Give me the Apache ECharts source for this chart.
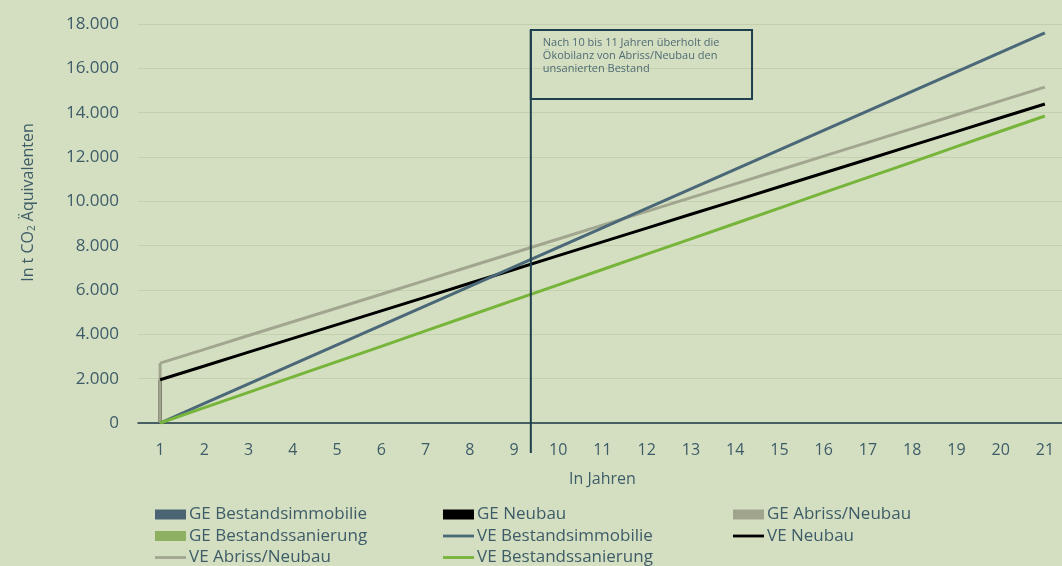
<!DOCTYPE html>
<html>
<head>
<meta charset="utf-8">
<script src="https://cdn.jsdelivr.net/npm/echarts@6/dist/echarts.min.js"></script>
<style>
html,body{margin:0;padding:0;background:#d4dfc1;}
#c{width:1062px;height:566px;}
</style>
</head>
<body>
<div id="c"></div>
<script>
const years = ['1','2','3','4','5','6','7','8','9','10','11','12','13','14','15','16','17','18','19','20','21'];
const veBestandsimmobilie = [0,880,1760,2640,3520,4400,5280,6160,7040,7920,8800,9680,10560,11440,12320,13200,14080,14960,15840,16720,17600];
const veAbrissNeubau = [2700,3320,3945,4570,5190,5810,6435,7060,7680,8300,8925,9550,10170,10790,11415,12040,12660,13280,13905,14530,15150];
const veNeubau = [1950,2570,3195,3815,4440,5060,5680,6305,6925,7550,8170,8790,9415,10035,10660,11280,11900,12525,13145,13770,14390];
const veBestandssanierung = [0,690,1385,2080,2770,3460,4155,4850,5540,6230,6925,7620,8310,9000,9695,10390,11080,11770,12465,13160,13850];
const geBestandsimmobilie = [0];
const geNeubau = [1950];
const geAbrissNeubau = [2700];
const geBestandssanierung = [0];
// annotation: [line x, line bottom y, box top y, box right x, box bottom y]
const annotation = [9.38, -1350, 17727, 14.38, 14615];
const noteText = 'Nach 10 bis 11 Jahren überholt die\nÖkobilanz von Abriss/Neubau den\nunsanierten Bestand';

const txt = '#3e5c68';
const FONT = '"Open Sans", sans-serif';
function fmt(v){ return String(v).replace(/\B(?=(\d{3})+(?!\d))/g,'.'); }
const lineIcon = 'path://M0,0 M0,10 M0,3.6 L31,3.6 L31,6.4 L0,6.4 Z';

const chart = echarts.init(document.getElementById('c'));
const lineBase = {type:'line', symbol:'none', showSymbol:false, xAxisIndex:0, yAxisIndex:0, z:3};
const barBase = {type:'bar', barWidth:3, barGap:'-100%', xAxisIndex:0, yAxisIndex:0, z:2};
function leg(left, items){
  return {
    orient:'vertical', left:left, top:504, height:90, padding:0, itemGap:0.5, itemWidth:31, itemHeight:10,
    itemStyle:{borderWidth:0},
    textStyle:{color:txt, fontSize:17, fontFamily:FONT, lineHeight:21, padding:[0,0,0,-2]},
    data: items.map(n => ({name:n, icon: n.indexOf('VE') === 0 ? lineIcon : 'rect'}))
  };
}
chart.setOption({
  backgroundColor:'#d4dfc1',
  animation:false,
  grid:{left:138, width:929, top:24, height:399, containLabel:false, outerBoundsMode:'none'},
  legend:[
    leg(155, ['GE Bestandsimmobilie','GE Bestandssanierung','VE Abriss/Neubau']),
    leg(443, ['GE Neubau','VE Bestandsimmobilie','VE Bestandssanierung']),
    leg(733, ['GE Abriss/Neubau','VE Neubau'])
  ],
  xAxis:[
    {type:'category', data:years, boundaryGap:true,
     name:'In Jahren', nameLocation:'middle', nameGap:48,
     nameTextStyle:{color:txt, fontSize:16, fontFamily:FONT},
     axisLine:{show:true, lineStyle:{color:'#1c3a48', width:1.5}},
     axisTick:{show:false},
     axisLabel:{color:txt, fontSize:16, fontFamily:FONT, margin:19},
     splitLine:{show:false}},
    {type:'value', min:0.5, max:21.5, show:false}
  ],
  yAxis:{type:'value', min:0, max:18000, interval:2000,
     name:'In t CO{sub|2} Äquivalenten', nameLocation:'middle', nameGap:101, nameRotate:90,
     nameTextStyle:{color:txt, fontSize:16, fontFamily:FONT, padding:[0,0,0,42],
       rich:{sub:{fontSize:10, verticalAlign:'bottom', padding:[8,0,0,0], color:txt, fontFamily:FONT}}},
     axisLine:{show:false}, axisTick:{show:false},
     axisLabel:{color:txt, fontSize:17, fontFamily:FONT, margin:19, formatter:fmt},
     splitLine:{lineStyle:{color:'#c3d0ad', width:1}}},
  series:[
    Object.assign({name:'GE Bestandsimmobilie', data:geBestandsimmobilie, itemStyle:{color:'#4a6474'}}, barBase),
    Object.assign({name:'GE Bestandssanierung', data:geBestandssanierung, itemStyle:{color:'#8db062'}}, barBase),
    Object.assign({name:'GE Neubau', data:geNeubau, itemStyle:{color:'#000000'}}, barBase),
    Object.assign({name:'GE Abriss/Neubau', data:geAbrissNeubau, itemStyle:{color:'#a0a48c'}}, barBase),
    Object.assign({name:'VE Abriss/Neubau', data:veAbrissNeubau, lineStyle:{color:'#a2a68f', width:3}, itemStyle:{color:'#a2a68f'}}, lineBase),
    Object.assign({name:'VE Neubau', data:veNeubau, lineStyle:{color:'#000000', width:3}, itemStyle:{color:'#000000'}}, lineBase),
    Object.assign({name:'VE Bestandsimmobilie', data:veBestandsimmobilie, lineStyle:{color:'#4b6878', width:3}, itemStyle:{color:'#4b6878'}}, lineBase),
    Object.assign({name:'VE Bestandssanierung', data:veBestandssanierung, lineStyle:{color:'#76b43a', width:3}, itemStyle:{color:'#76b43a'}}, lineBase),
    {name:'annotation', type:'custom', xAxisIndex:1, yAxisIndex:0, silent:true, clip:false, z:5,
     data:[annotation],
     renderItem:function(params, api){
       const lx = api.value(0), lb = api.value(1), top = api.value(2), rx = api.value(3), bb = api.value(4);
       const pBottom = api.coord([lx, lb]);
       const pTop = api.coord([lx, top]);
       const pBR = api.coord([rx, bb]);
       const stroke = '#1e3f4e';
       return {type:'group', children:[
         {type:'line', shape:{x1:pBottom[0], y1:pBottom[1], x2:pTop[0], y2:pTop[1]}, style:{stroke:stroke, lineWidth:2}},
         {type:'rect', shape:{x:pTop[0], y:pTop[1], width:pBR[0]-pTop[0], height:pBR[1]-pTop[1]}, style:{fill:'none', stroke:stroke, lineWidth:2}},
         {type:'text', x:pTop[0]+12, y:pTop[1]+6, style:{text:noteText, fill:'#4f6b74', font:'11px "Open Sans", sans-serif', lineHeight:13}}
       ]};
     }}
  ]
});
</script>
</body>
</html>
